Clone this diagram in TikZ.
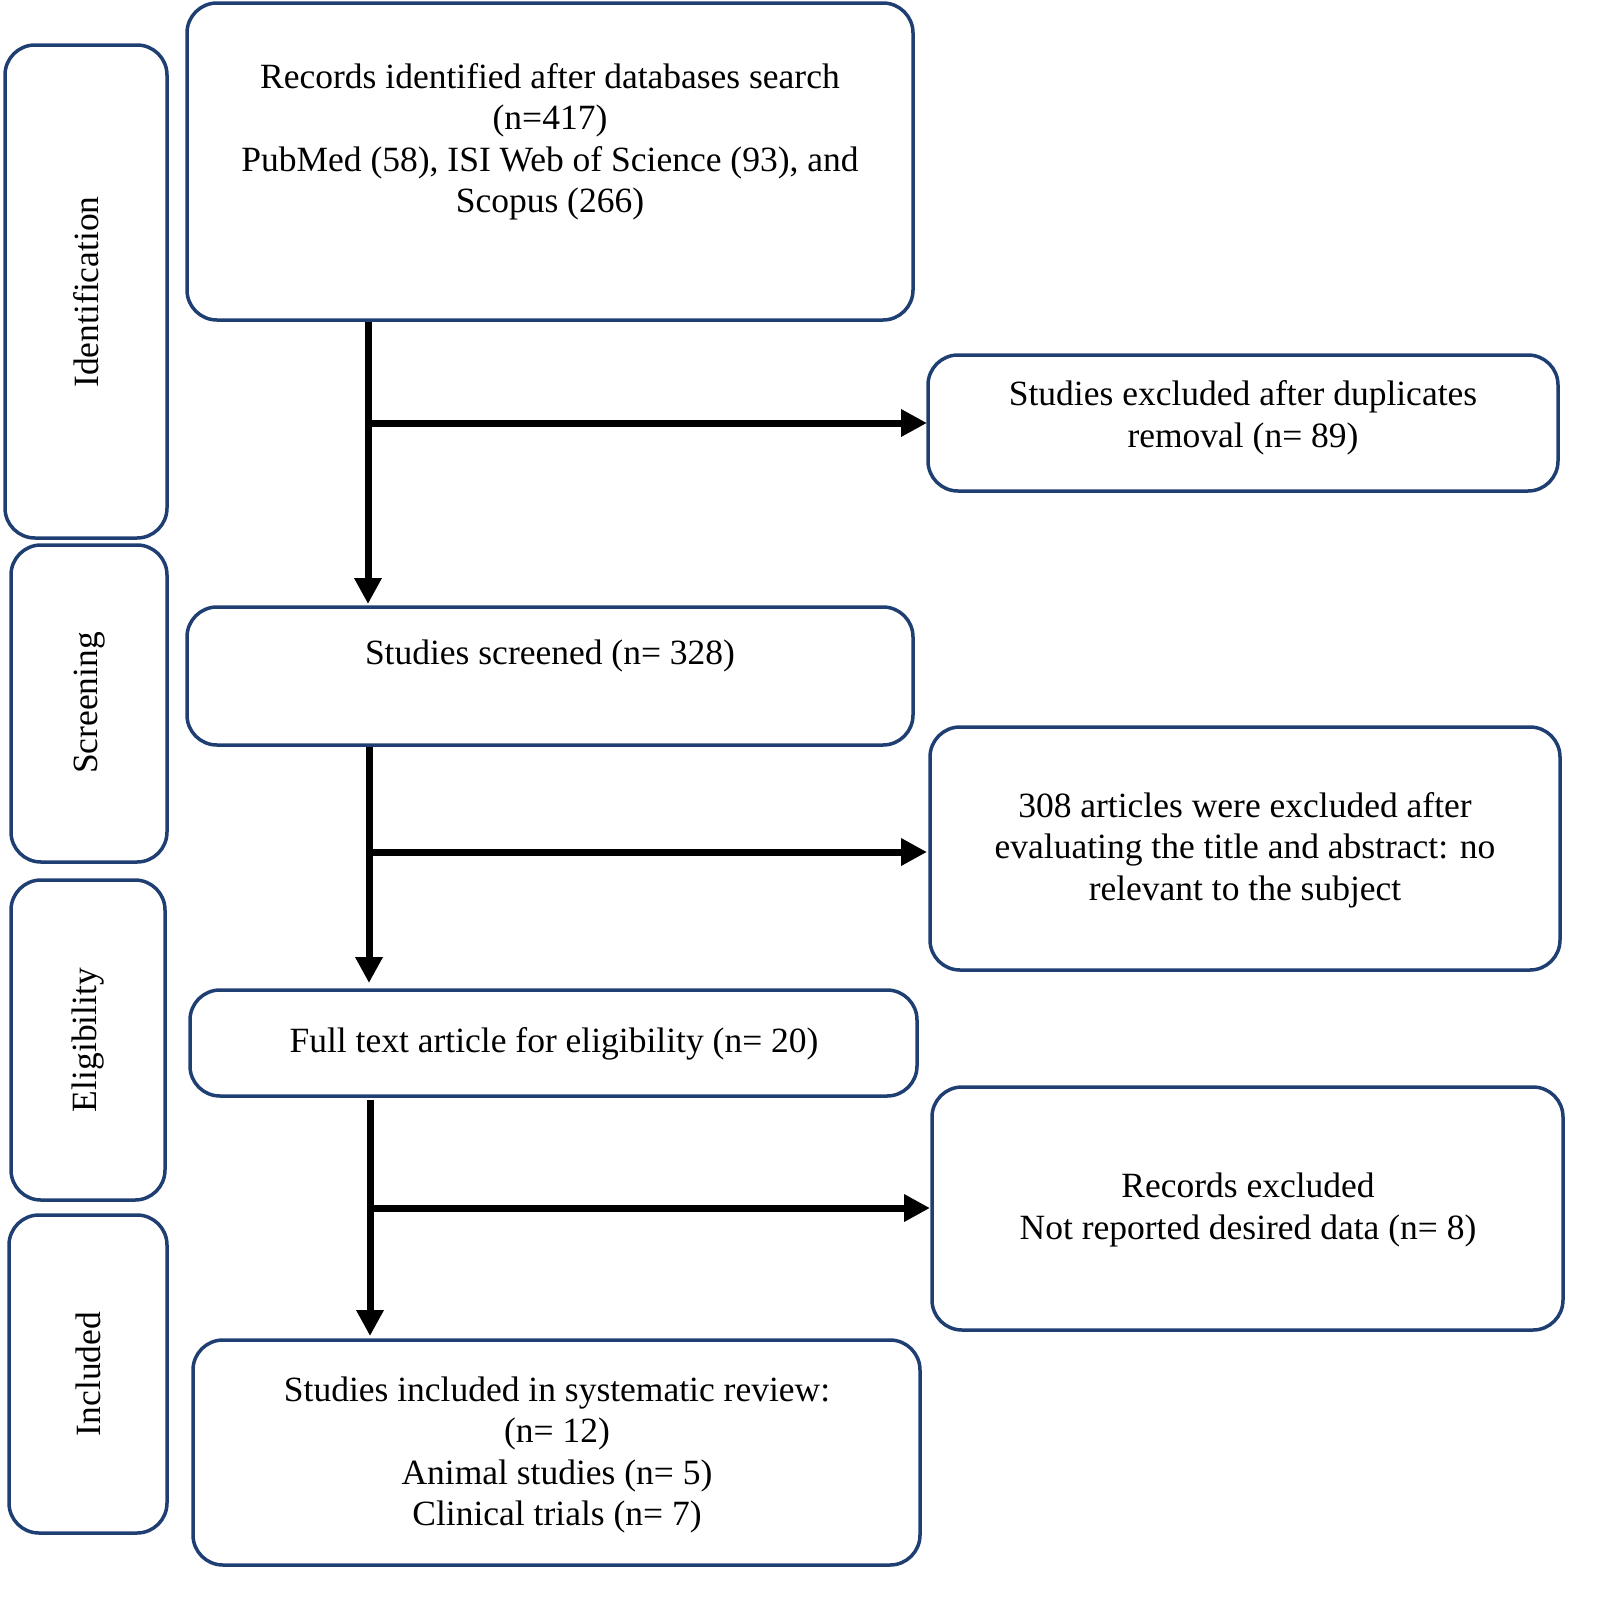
\documentclass[tikz,border=0pt]{standalone}
\usepackage{fontspec}
\setmainfont{Liberation Serif}
\usetikzlibrary{arrows.meta}
\begin{document}
\begin{tikzpicture}[x=1pt,y=-1pt,
 box/.style={draw=boxc,line width=3.5pt,rounded corners=30pt},
 txt/.style={align=center,font=\fontsize{35.5}{41.5}\selectfont},
 arr/.style={line width=7pt,-{Triangle[length=26pt,width=26pt]}},
 ln/.style={line width=7pt}]
\definecolor{boxc}{HTML}{1F3F73}
\useasboundingbox (0,0) rectangle (1600,1601);
% side boxes
\draw[box] (5,45) rectangle (167,538);
\draw[box] (11,545) rectangle (167,862);
\draw[box] (11,880) rectangle (165,1200);
\draw[box] (9,1215) rectangle (167,1533);
\node[txt,rotate=90] (l1) at (86,292) {Identification};
\node[txt,rotate=90] (l2) at (90,703) {Screening};
\node[txt,rotate=90] (l3) at (88,1040) {Eligibility};
\node[txt,rotate=90] (l4) at (88,1374) {Included};
% main boxes
\draw[box] (187,3) rectangle (913,320);
\node[txt] (a) at (550,142) {Records identified after databases search\\(n=417)\\PubMed (58), ISI Web of Science (93), and\\Scopus (266)};
\draw[box] (187,607) rectangle (913,745);
\node[txt] (b) at (550,656) {Studies screened (n= 328)};
\draw[box] (190,990) rectangle (917,1096);
\node[txt] (c) at (554,1044) {Full text article for eligibility (n= 20)};
\draw[box] (193,1340) rectangle (920,1565);
\node[txt] (d) at (557,1455) {Studies included in systematic review:\\(n= 12)\\Animal studies (n= 5)\\Clinical trials (n= 7)};
\draw[box] (928,355) rectangle (1558,491);
\node[txt] (e1) at (1243,418) {Studies excluded after duplicates\\removal (n= 89)};
\draw[box] (930,727) rectangle (1560,970);
\node[txt] (e2) at (1245,850) {308 articles were excluded after\\evaluating the title and abstract: no\\relevant to the subject};
\draw[box] (932,1087) rectangle (1563,1330);
\node[txt] (e3) at (1248,1210) {Records excluded\\Not reported desired data (n= 8)};
% connectors
\coordinate (s1) at (368,322); \coordinate (t1) at (368,604);
\coordinate (j1) at (368,423); \coordinate (k1) at (927,423);
\draw[arr] (s1) -- (t1);
\draw[arr] (j1) -- (k1);
\coordinate (s2) at (369,747); \coordinate (t2) at (369,983);
\coordinate (j2) at (369,852); \coordinate (k2) at (927,852);
\draw[arr] (s2) -- (t2);
\draw[arr] (j2) -- (k2);
\coordinate (s3) at (370,1100); \coordinate (t3) at (370,1336);
\coordinate (j3) at (370,1208); \coordinate (k3) at (930,1208);
\draw[arr] (s3) -- (t3);
\draw[arr] (j3) -- (k3);
\end{tikzpicture}
\end{document}
